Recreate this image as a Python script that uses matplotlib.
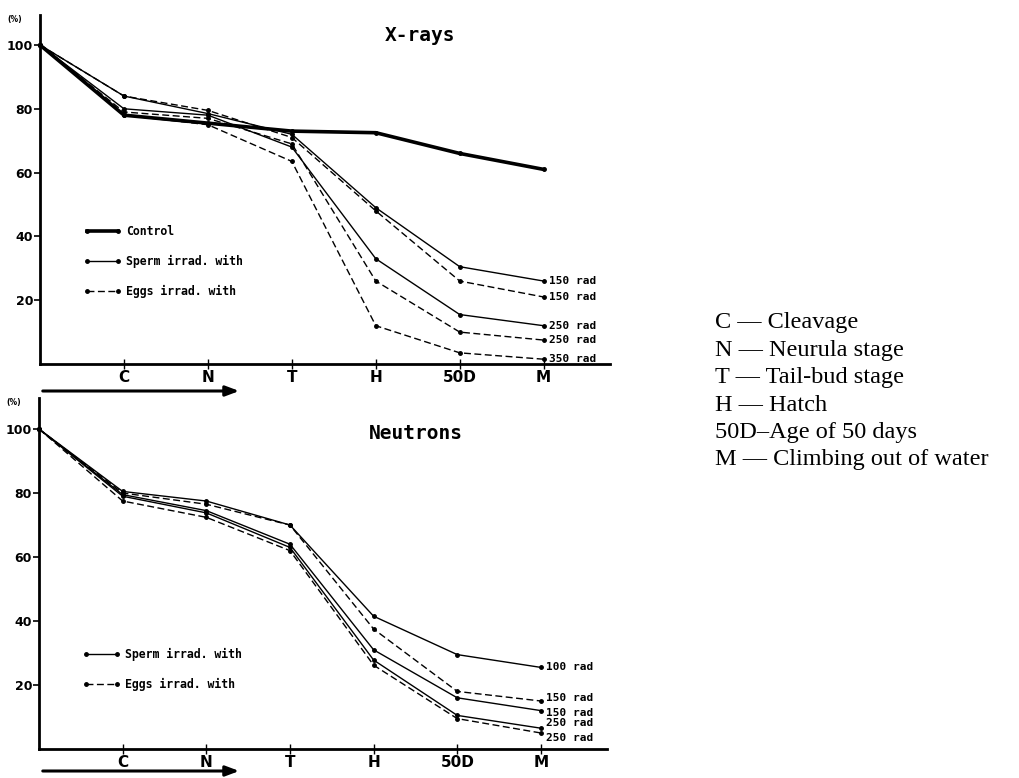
import matplotlib
matplotlib.use('Agg')
import matplotlib.pyplot as plt
from matplotlib.lines import Line2D

# stages along the x axis (0 = start, fertilization)
stages = ['', 'C', 'N', 'T', 'H', '50D', 'M']
xpos = list(range(len(stages)))

# X-rays panel (% survival)
xr_control = [100, 78, 75.5, 73, 72.5, 66, 61]
xr_sperm_150 = [100, 84, 78.5, 72, 49, 30.5, 26]
xr_eggs_150 = [100, 84, 79.5, 71, 48, 26, 21]
xr_sperm_250 = [100, 80, 78, 68, 33, 15.5, 12]
xr_eggs_250 = [100, 79, 77, 69, 26, 10, 7.5]
xr_eggs_350 = [100, 78, 75, 63.5, 12, 3.5, 1.5]

# Neutrons panel
nt_sperm_100 = [100, 80.5, 77.5, 70, 41.5, 29.5, 25.5]
nt_eggs_150 = [100, 80, 76.5, 70, 37.5, 18, 15]
nt_sperm_150 = [100, 79.5, 74.5, 64, 31, 16, 12]
nt_sperm_250 = [100, 79, 73.8, 63, 27.8, 10.5, 6.5]
nt_eggs_250 = [100, 77.5, 72.4, 62, 26.2, 9.5, 5]

stage_names = ['C \u2014 Cleavage', 'N \u2014 Neurula stage', 'T \u2014 Tail-bud stage',
               'H \u2014 Hatch', '50D\u2013Age of 50 days', 'M \u2014 Climbing out of water']

mono = 'DejaVu Sans Mono'
W, H = 1019, 778
fig = plt.figure(figsize=(W / 100, H / 100), dpi=100)

ax1 = fig.add_axes([40 / W, 1 - 364 / H, 570 / W, 349 / H])
ax2 = fig.add_axes([39 / W, 1 - 749 / H, 568 / W, 351 / H])

dash = (0, (5, 2.5))


def style_axis(ax, ytop):
    ax.set_xlim(0, 6.79)
    ax.set_ylim(0, ytop)
    for s in ['top', 'right']:
        ax.spines[s].set_visible(False)
    for s in ['left', 'bottom']:
        ax.spines[s].set_linewidth(2.0)
    ax.set_xticks(xpos[1:])
    ax.set_xticklabels(stages[1:], fontsize=11, fontweight='bold', family='DejaVu Sans')
    ax.set_yticks([20, 40, 60, 80, 100])
    ax.set_yticklabels(['20', '40', '60', '80', '100'], fontsize=9, fontweight='bold')
    ax.tick_params(axis='x', direction='inout', length=7, width=1, pad=1)
    ax.tick_params(axis='y', direction='out', length=4, width=1.2, pad=1)
    ax.text(-0.045, 1.0, '(%)', transform=ax.transAxes, fontsize=5.5,
            fontweight='bold', ha='center', va='top')


def series(ax, y, ls, lw=1.0, label=None, nudge=0.0):
    ax.plot(xpos, y, color='black', lw=lw, linestyle=ls, marker='o', ms=2.5,
            clip_on=False)
    if label:
        ax.text(6.06, y[-1] + nudge, label, fontsize=8, family=mono,
                fontweight='bold', ha='left', va='center')


# ---- X-rays
style_axis(ax1, 109.4)
series(ax1, xr_control, '-', lw=2.6)
series(ax1, xr_sperm_150, '-', label='150 rad')
series(ax1, xr_eggs_150, dash, label='150 rad')
series(ax1, xr_sperm_250, '-', label='250 rad')
series(ax1, xr_eggs_250, dash, label='250 rad')
series(ax1, xr_eggs_350, dash, label='350 rad')
ax1.text(0.667, 0.94, 'X-rays', transform=ax1.transAxes, fontsize=14,
         family=mono, fontweight='bold', ha='center', va='center')

h1 = [Line2D([], [], color='black', lw=2.6, marker='o', ms=2.5),
      Line2D([], [], color='black', lw=1.0, marker='o', ms=2.5),
      Line2D([], [], color='black', lw=1.0, ls=dash, marker='o', ms=2.5)]
ax1.legend(h1, ['Control', 'Sperm irrad. with', 'Eggs irrad. with'],
           loc='upper left', bbox_to_anchor=(0.066, 0.415), frameon=False,
           prop={'family': mono, 'weight': 'bold', 'size': 8.3},
           handlelength=3.3, handletextpad=0.4, labelspacing=1.45, numpoints=2,
           borderpad=0)

# ---- Neutrons
style_axis(ax2, 109.7)
series(ax2, nt_sperm_100, '-', label='100 rad')
series(ax2, nt_eggs_150, dash, label='150 rad', nudge=1.0)
series(ax2, nt_sperm_150, '-', label='150 rad', nudge=-0.6)
series(ax2, nt_sperm_250, '-', label='250 rad', nudge=1.6)
series(ax2, nt_eggs_250, dash, label='250 rad', nudge=-1.6)
ax2.text(0.664, 0.90, 'Neutrons', transform=ax2.transAxes, fontsize=14,
         family=mono, fontweight='bold', ha='center', va='center')

h2 = [Line2D([], [], color='black', lw=1.0, marker='o', ms=2.5),
      Line2D([], [], color='black', lw=1.0, ls=dash, marker='o', ms=2.5)]
ax2.legend(h2, ['Sperm irrad. with', 'Eggs irrad. with'],
           loc='upper left', bbox_to_anchor=(0.066, 0.305), frameon=False,
           prop={'family': mono, 'weight': 'bold', 'size': 8.3},
           handlelength=3.3, handletextpad=0.4, labelspacing=1.45, numpoints=2,
           borderpad=0)

# time arrows under each panel
for yy in [391, 771]:
    fig.add_artist(matplotlib.patches.FancyArrowPatch(
        (40 / W, 1 - yy / H), (242 / W, 1 - yy / H), transform=fig.transFigure,
        arrowstyle='-|>,head_length=8,head_width=3', mutation_scale=1,
        color='black', lw=2.2))

# stage key on the right
for i, name in enumerate(stage_names):
    fig.text(715 / W, 1 - (323 + 27.4 * i) / H, name, fontsize=17.5,
             family='Liberation Serif', ha='left', va='center')

fig.savefig('out.png', dpi=100)
